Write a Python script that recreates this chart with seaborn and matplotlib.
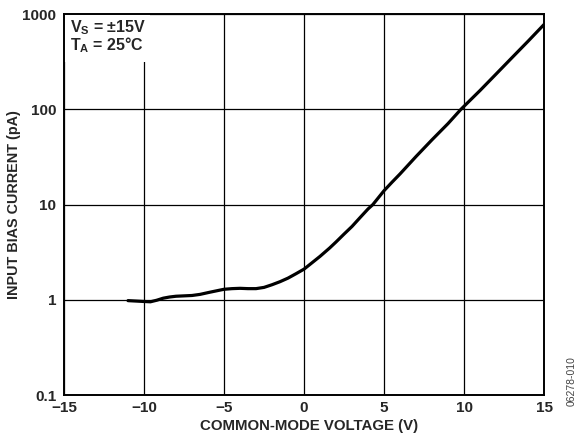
import pandas as pd
import numpy as np
import matplotlib
matplotlib.use('Agg')
import matplotlib.pyplot as plt
import seaborn as sns
from matplotlib.patches import Rectangle

# values
voltage = [-11, -10.5, -10, -9.6, -9.2, -8.8, -8.4, -8, -7, -6.5, -5.9, -5, -4.5, -4, -3.5, -3,
           -2.5, -2, -1.5, -1, -0.5, 0, 0.5, 1, 1.6, 2, 2.5, 3, 3.5, 4, 4.3, 5, 5.5, 6, 7, 8, 9,
           9.8, 11, 12, 13, 14, 15]
bias_pa = [0.98, 0.97, 0.96, 0.953, 0.99, 1.04, 1.07, 1.09, 1.11, 1.14, 1.20, 1.29, 1.31, 1.32,
           1.31, 1.31, 1.35, 1.44, 1.55, 1.69, 1.88, 2.1, 2.45, 2.86, 3.5, 4.05, 4.9, 5.9, 7.3,
           9.0, 10.0, 14.0, 17.2, 21, 32, 48, 71, 100, 158, 235, 350, 520, 780]

x_ticks = [-15, -10, -5, 0, 5, 10, 15]
x_tick_labels = ['\u221215', '\u221210', '\u22125', '0', '5', '10', '15']
y_ticks = [0.1, 1, 10, 100, 1000]
y_tick_labels = ['0.1', '1', '10', '100', '1000']

df = pd.DataFrame({'v': voltage, 'ib': bias_pa})

sns.set_style("white")
plt.rcParams['font.family'] = ['Liberation Sans', 'DejaVu Sans']
plt.rcParams['font.weight'] = 'bold'
plt.rcParams['mathtext.fontset'] = 'custom'
plt.rcParams['mathtext.rm'] = 'Liberation Sans:bold'
plt.rcParams['mathtext.it'] = 'Liberation Sans:bold'
plt.rcParams['mathtext.bf'] = 'Liberation Sans:bold'

fig = plt.figure(figsize=(5.84, 4.48), dpi=100)
ax = fig.add_axes([0.1096, 0.1183, 0.822, 0.850])

sns.lineplot(data=df, x='v', y='ib', ax=ax, color='black', linewidth=2.3, zorder=3)

ax.set_yscale('log')
ax.set_xlim(-15, 15)
ax.set_ylim(0.1, 1000)
ax.set_xticks(x_ticks)
ax.set_xticklabels(x_tick_labels)
ax.set_yticks(y_ticks)
ax.set_yticklabels(y_tick_labels)
ax.minorticks_off()
ax.tick_params(axis='x', length=0, labelsize=11, pad=4)
ax.tick_params(axis='y', length=0, labelsize=11, pad=5.5)
for lab in ax.get_xticklabels() + ax.get_yticklabels():
    lab.set_fontweight('bold')

ax.grid(True, color='black', linewidth=0.9, zorder=1)
for sp in ax.spines.values():
    sp.set_color('black')
    sp.set_linewidth(1.4)
    sp.set_zorder(5)

ax.set_xlabel('COMMON-MODE VOLTAGE (V)', fontsize=10.8, fontweight='bold', labelpad=3, x=0.511)
ax.set_ylabel('INPUT BIAS CURRENT (pA)', fontsize=10.4, fontweight='bold', labelpad=1)

# white patch behind the conditions text
ax.add_patch(Rectangle((0, 0.874), 0.18, 0.126, transform=ax.transAxes,
                       facecolor='white', edgecolor='none', zorder=2))
ax.text(0.0125, 0.9528, '$\\mathregular{V_S}$ = \u00b115V', transform=ax.transAxes,
        ha='left', va='baseline', fontsize=11.5, fontweight='bold', zorder=4)
ax.text(0.0125, 0.9055, '$\\mathregular{T_A}$ = 25\u00b0C', transform=ax.transAxes,
        ha='left', va='baseline', fontsize=11.5, fontweight='bold', zorder=4)

fig.text(0.978, 0.15, '06278-010', rotation=90, ha='center', va='center',
         fontsize=7.5, color='#444444', fontweight='normal')

plt.savefig('out.png', dpi=100)
